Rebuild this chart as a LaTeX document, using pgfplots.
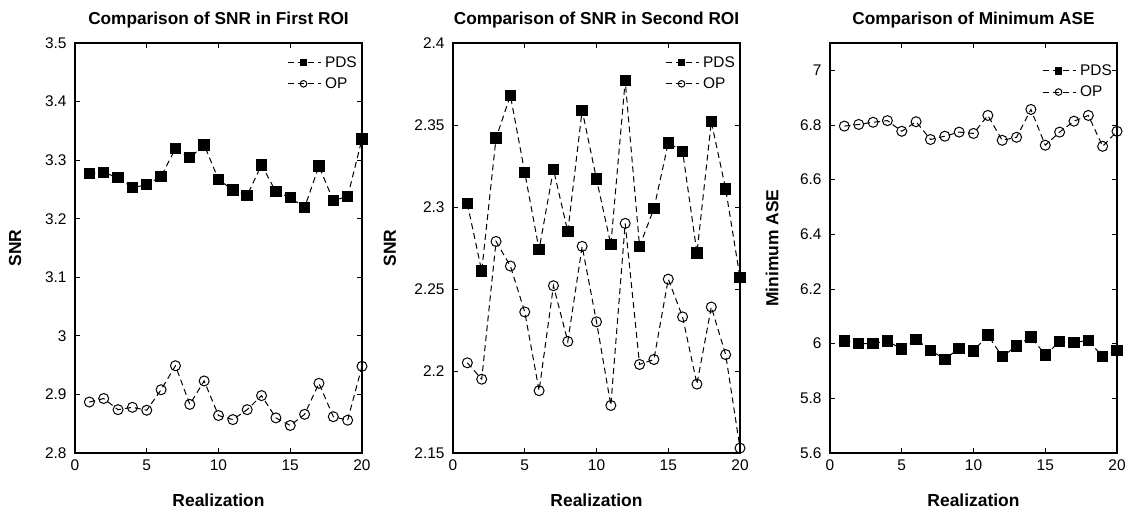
\documentclass[border=0pt]{standalone}
\usepackage{fontspec}
\setmainfont{Liberation Sans}
\usepackage{pgfplots}
\pgfplotsset{compat=1.18}

\pgfplotsset{
  every axis title/.style={at={(0.5,1)}, anchor=south, yshift=11bp},
  panel/.style={
    scale only axis, width=287bp, height=410bp,
    xmin=0, xmax=20, xtick={0,5,10,15,20},
    tick align=inside,
    major tick length=5bp,
    axis line style={line width=1.1bp},
    every tick/.style={black, line width=0.8bp},
    tick label style={font=\fontsize{15.5}{15.5}\selectfont},
    xticklabel style={yshift=-3bp},
    yticklabel style={xshift=-5bp},
    /pgf/number format/assume math mode=true,
    title style={font=\bfseries\fontsize{17.3}{17.3}\selectfont},
    label style={font=\bfseries\fontsize{17.5}{17.5}\selectfont},
    xlabel=Realization,
    xlabel style={at={(axis description cs:0.5,-0.115)}, anchor=center},
    clip=false,
    legend style={draw=none, fill=none, at={(axis description cs:1.0,0.975)}, anchor=north east,
      font=\fontsize{15.5}{15.5}\selectfont, row sep=5bp, inner sep=1bp,
      nodes={inner xsep=4bp}},
    legend cell align=left,
    legend image code/.code={\draw[mark repeat=2,mark phase=2,#1,mark size=3.3bp] plot coordinates {(0bp,0bp) (16bp,0bp) (33bp,0bp)};},
  },
  pds/.style={black, line width=1bp, dash pattern=on 6bp off 4bp, mark=square*, mark size=5.2bp, mark options={solid, fill=black}},
  op/.style={black, line width=1bp, dash pattern=on 6bp off 4bp, mark=o, mark size=5bp, mark options={solid, fill=none}},
}

\begin{document}
\begin{tikzpicture}
\path[use as bounding box] (-75bp,-62bp) rectangle (1058bp,453bp);

% Panel 1
\begin{axis}[panel, at={(0bp,0bp)}, anchor=south west,
  ymin=2.8, ymax=3.5, ytick={2.8,2.9,3.0,3.1,3.2,3.3,3.4,3.5},
  ylabel=SNR, ylabel style={at={(axis description cs:-0.209,0.5)}, anchor=center},
  title={Comparison of SNR in First ROI}]
\addplot[pds] coordinates {
(1,3.277) (2,3.279) (3,3.270) (4,3.253) (5,3.258) (6,3.272) (7,3.320) (8,3.304) (9,3.326) (10,3.267)
(11,3.249) (12,3.240) (13,3.292) (14,3.246) (15,3.236) (16,3.219) (17,3.290) (18,3.231) (19,3.238) (20,3.336)};
\addlegendentry{PDS}
\addplot[op] coordinates {
(1,2.887) (2,2.893) (3,2.874) (4,2.878) (5,2.873) (6,2.908) (7,2.949) (8,2.883) (9,2.923) (10,2.864)
(11,2.857) (12,2.874) (13,2.898) (14,2.860) (15,2.847) (16,2.866) (17,2.919) (18,2.862) (19,2.856) (20,2.948)};
\addlegendentry{OP}
\end{axis}

% Panel 2
\begin{axis}[panel, at={(378bp,0bp)}, anchor=south west,
  ymin=2.15, ymax=2.4, ytick={2.15,2.2,2.25,2.3,2.35,2.4},
  yticklabel style={/pgf/number format/fixed, /pgf/number format/precision=2},
  ylabel=SNR, ylabel style={at={(axis description cs:-0.22,0.5)}, anchor=center},
  title={Comparison of SNR in Second ROI}]
\addplot[pds] coordinates {
(1,2.302) (2,2.261) (3,2.342) (4,2.368) (5,2.321) (6,2.274) (7,2.323) (8,2.285) (9,2.359) (10,2.317)
(11,2.277) (12,2.377) (13,2.276) (14,2.299) (15,2.339) (16,2.334) (17,2.272) (18,2.352) (19,2.311) (20,2.257)};
\addlegendentry{PDS}
\addplot[op] coordinates {
(1,2.205) (2,2.195) (3,2.279) (4,2.264) (5,2.236) (6,2.188) (7,2.252) (8,2.218) (9,2.276) (10,2.230)
(11,2.179) (12,2.290) (13,2.204) (14,2.207) (15,2.256) (16,2.233) (17,2.192) (18,2.239) (19,2.210) (20,2.153)};
\addlegendentry{OP}
\end{axis}

% Panel 3
\begin{axis}[panel, at={(755bp,0bp)}, anchor=south west,
  ymin=5.6, ymax=7.1, ytick={5.6,5.8,6.0,6.2,6.4,6.6,6.8,7.0},
  ylabel=Minimum ASE, ylabel style={at={(axis description cs:-0.202,0.5)}, anchor=center},
  legend style={at={(axis description cs:1.0,0.955)}},
  title={Comparison of Minimum ASE}]
\addplot[pds] coordinates {
(1,6.010) (2,6.000) (3,6.000) (4,6.010) (5,5.980) (6,6.016) (7,5.976) (8,5.943) (9,5.983) (10,5.973)
(11,6.032) (12,5.952) (13,5.992) (14,6.025) (15,5.959) (16,6.007) (17,6.004) (18,6.012) (19,5.952) (20,5.976)};
\addlegendentry{PDS}
\addplot[op] coordinates {
(1,6.796) (2,6.802) (3,6.810) (4,6.816) (5,6.777) (6,6.812) (7,6.747) (8,6.759) (9,6.774) (10,6.769)
(11,6.835) (12,6.744) (13,6.755) (14,6.857) (15,6.726) (16,6.774) (17,6.814) (18,6.835) (19,6.722) (20,6.777)};
\addlegendentry{OP}
\end{axis}
\end{tikzpicture}
\end{document}
